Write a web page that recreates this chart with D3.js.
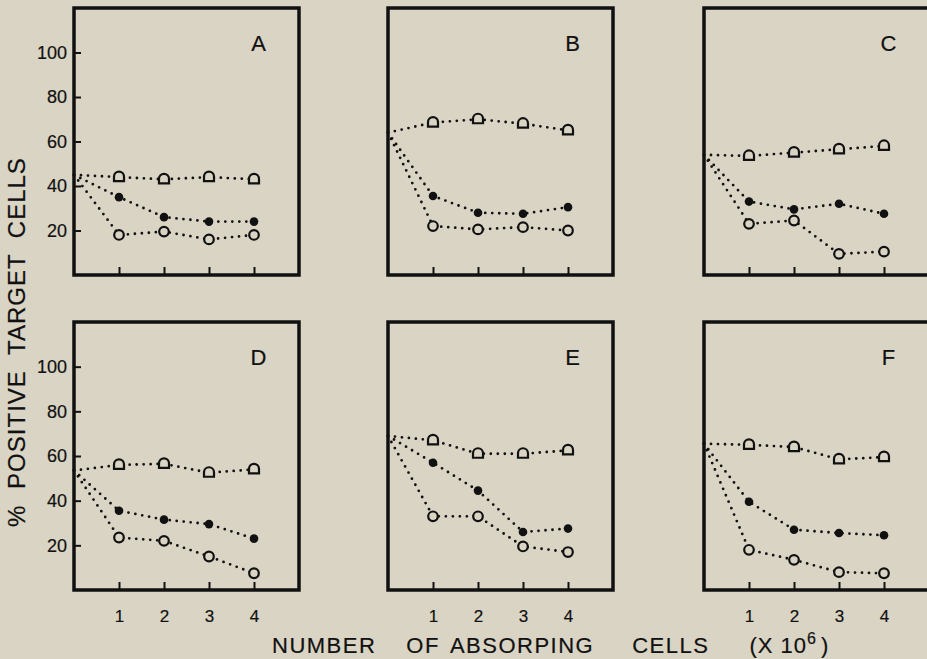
<!DOCTYPE html>
<html>
<head>
<meta charset="utf-8">
<script src="https://cdn.jsdelivr.net/npm/d3@7"></script>
<style>
  body { margin: 0; background: #d9d4c4; }
  svg { display: block; font-family: "Liberation Sans", Arial, sans-serif; }
</style>
</head>
<body>
<svg width="927" height="659"></svg>
<script>
// panel letters, doses (x 10^6) and the three series
var panelNames = ["A", "B", "C", "D", "E", "F"];
var doses = [1, 2, 3, 4];
var startValues = [45, 64, 54, 53.5, 69, 65.5];
var halfOpenSeries = [
    [44, 43, 44, 43],
    [68.5, 70, 68, 65],
    [53.5, 55, 56.5, 58],
    [56, 56.5, 52.5, 54],
    [67, 61, 61, 62.5],
    [65, 64, 58.5, 59.5]];
var filledSeries = [
    [35, 26, 24, 24],
    [35.5, 28, 27.5, 30.5],
    [33, 29.5, 32, 27.5],
    [35.5, 31.5, 29.5, 23],
    [57, 44.5, 26, 27.5],
    [39.5, 27, 25.5, 24.5]];
var openSeries = [
    [18, 19.5, 16, 18],
    [22, 20.5, 21.5, 20],
    [23, 24.5, 9.5, 10.5],
    [23.5, 22, 15, 7.5],
    [33, 33, 19.5, 17],
    [18, 13.5, 8, 7.5]];
var yTicks = [20, 40, 60, 80, 100];
var xTitleWords = ["NUMBER", "OF", "ABSORPING", "CELLS"];

var svg = d3.select("svg");
var ink = "#111";
var paper = "#d9d4c4";

var colLeft = [74, 388, 704],
    rowTop = [8, 322],
    rowBottom = [275, 590],
    panelW = 225;

var line = d3.line();

function inkText(sel, size) {
    sel.attr("font-size", size).attr("fill", ink)
        .attr("stroke", ink).attr("stroke-width", 0.2)
        .attr("font-family", "Liberation Sans, Arial");
}

panelNames.forEach(function(name, i) {
    var col = i % 3, row = Math.floor(i / 3);
    var x = d3.scaleLinear().domain([0, 5]).range([colLeft[col], colLeft[col] + panelW]);
    var y = d3.scaleLinear().domain([0, 120]).range([rowBottom[row], rowTop[row]]);
    var g = svg.append("g");

    // x ticks pointing inward
    var xa = g.append("g")
        .attr("transform", "translate(0," + rowBottom[row] + ")")
        .call(d3.axisBottom(x).tickValues(doses).tickSize(-8).tickPadding(20)
            .tickFormat(row === 1 ? d3.format("d") : function() { return ""; }));
    xa.select(".domain").remove();
    xa.selectAll("line").attr("stroke", ink).attr("stroke-width", 2);
    xa.selectAll("text").call(inkText, 17);

    if (col === 0) {
        var ya = g.append("g")
            .attr("transform", "translate(" + colLeft[col] + ",0)")
            .call(d3.axisLeft(y).tickValues(yTicks).tickSize(-7).tickPadding(7));
        ya.select(".domain").remove();
        ya.selectAll("line").attr("stroke", ink).attr("stroke-width", 2);
        ya.selectAll("text").call(inkText, 18);
    }

    // frame
    g.append("rect")
        .attr("x", x(0)).attr("y", y(120))
        .attr("width", x(5) - x(0)).attr("height", y(0) - y(120))
        .attr("fill", "none").attr("stroke", ink).attr("stroke-width", 3.5);

    g.append("text")
        .attr("x", x(4.1)).attr("y", y(120) + 43)
        .attr("text-anchor", "middle")
        .call(inkText, 22)
        .text(name);

    var series = [halfOpenSeries[i], filledSeries[i], openSeries[i]];
    series.forEach(function(vals) {
        var pts = [[x(0), y(startValues[i])]].concat(vals.map(function(v, k) {
            return [x(doses[k]), y(v)];
        }));
        g.append("path")
            .attr("d", line(pts))
            .attr("fill", "none").attr("stroke", ink)
            .attr("stroke-width", 2.8).attr("stroke-linecap", "round")
            .attr("stroke-dasharray", "0 7");
    });

    // half-open (dome) markers
    g.selectAll(".dome").data(halfOpenSeries[i]).enter().append("path")
        .attr("transform", function(v, k) { return "translate(" + x(doses[k]) + "," + y(v) + ")"; })
        .attr("d", "M-5,4 V-0.5 A5,5 0 0 1 5,-0.5 V4 Z")
        .attr("fill", paper).attr("stroke", ink).attr("stroke-width", 2.2);

    g.selectAll(".dot").data(filledSeries[i]).enter().append("circle")
        .attr("cx", function(v, k) { return x(doses[k]); })
        .attr("cy", function(v) { return y(v); })
        .attr("r", 4.3).attr("fill", ink);

    g.selectAll(".ring").data(openSeries[i]).enter().append("circle")
        .attr("cx", function(v, k) { return x(doses[k]); })
        .attr("cy", function(v) { return y(v); })
        .attr("r", 4.8).attr("fill", paper).attr("stroke", ink).attr("stroke-width", 2.2);
});

// axis titles
svg.append("text")
    .attr("transform", "translate(25,342) rotate(-90)")
    .attr("text-anchor", "middle")
    .call(inkText, 24)
    .attr("letter-spacing", 1).attr("word-spacing", 8)
    .text("% POSITIVE TARGET CELLS");

// x title: words laid out one after another with the gaps seen in the print
var gaps = [30, 10, 38, 40];
var cursor = 272;
xTitleWords.forEach(function(w, k) {
    var t = svg.append("text")
        .attr("x", cursor).attr("y", 653)
        .call(inkText, 22)
        .attr("letter-spacing", 1.5)
        .text(w);
    cursor += t.node().getComputedTextLength() + gaps[k];
});

var unit = svg.append("text")
    .attr("x", cursor).attr("y", 653)
    .call(inkText, 22)
    .attr("letter-spacing", 1);
unit.append("tspan").text("(X 10");
unit.append("tspan").attr("dy", -9).attr("font-size", 16).text("6");
unit.append("tspan").attr("dy", 9).attr("dx", 4).text(")");
</script>
</body>
</html>
